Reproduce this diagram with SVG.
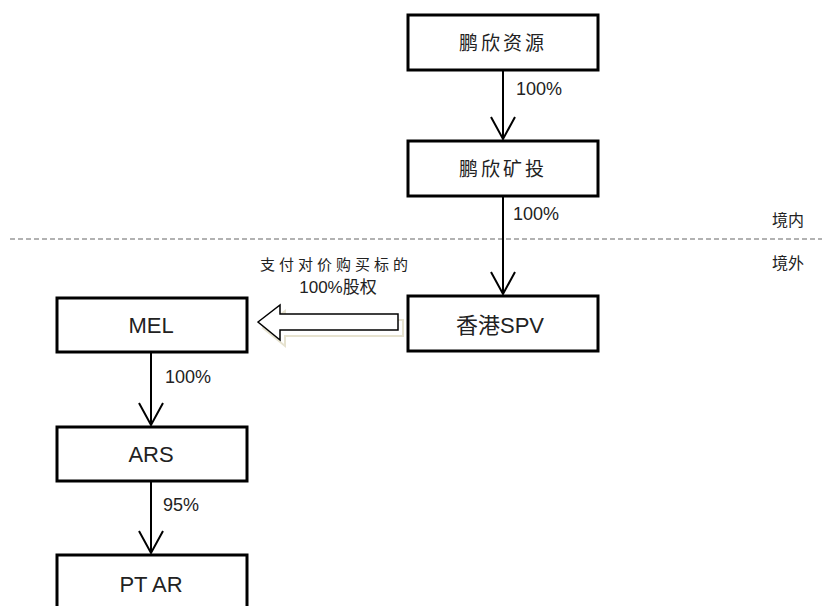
<svg xmlns="http://www.w3.org/2000/svg" width="822" height="606" viewBox="0 0 822 606">
<style>
.box{fill:#fff;stroke:#000;stroke-width:3}
.ln{fill:none;stroke:#000;stroke-width:2}
.cjk{font-family:"Noto Sans CJK SC","Liberation Sans",sans-serif;fill:#222}
.lat{font-family:"Liberation Sans","Noto Sans CJK SC",sans-serif;fill:#222}
.pct{font-family:"Liberation Sans",sans-serif;font-size:18px;fill:#222}
</style>
<rect width="822" height="606" fill="#fff"/>
<line x1="10" y1="239" x2="822" y2="239" stroke="#666" stroke-width="1.2" stroke-dasharray="5,3"/>
<text class="cjk" x="772" y="226" font-size="16">境内</text>
<text class="cjk" x="772" y="269" font-size="16">境外</text>
<g id="n1"><rect class="box" x="408" y="15" width="190" height="55"/><text class="cjk" x="503" y="50" font-size="19" letter-spacing="3" text-anchor="middle">鹏欣资源</text></g>
<g id="n2"><rect class="box" x="408" y="141" width="190" height="55"/><text class="cjk" x="503" y="176" font-size="19" letter-spacing="3" text-anchor="middle">鹏欣矿投</text></g>
<g id="n3"><rect class="box" x="408" y="296" width="190" height="55"/><text class="lat" x="500" y="333" font-size="22" text-anchor="middle">香港SPV</text></g>
<g id="n4"><rect class="box" x="57" y="298" width="190" height="54"/><text class="lat" x="151" y="333" font-size="22" text-anchor="middle">MEL</text></g>
<g id="n5"><rect class="box" x="57" y="427" width="190" height="54"/><text class="lat" x="151" y="462" font-size="22" text-anchor="middle">ARS</text></g>
<g id="n6"><rect class="box" x="57" y="555" width="190" height="60"/><text class="lat" x="151" y="592" font-size="22" text-anchor="middle">PT AR</text></g>
<g id="connectors">
<line class="ln" x1="503" y1="70" x2="503" y2="139"/><polyline class="ln" points="491,117 503,139 515,117"/>
<line class="ln" x1="503" y1="196" x2="503" y2="294"/><polyline class="ln" points="491,272 503,294 515,272"/>
<line class="ln" x1="151" y1="352" x2="151" y2="425"/><polyline class="ln" points="139,403 151,425 163,403"/>
<line class="ln" x1="151" y1="481" x2="151" y2="553"/><polyline class="ln" points="139,531 151,553 163,531"/>
<polygon points="263,328 285,311 285,320 403,320 403,336 285,336 285,346" fill="none" stroke="#e6e2cf" stroke-width="2"/>
<polygon points="258,322 280,305 280,314 398,314 398,330 280,330 280,340" fill="#fff" stroke="#000" stroke-width="1.5"/>
</g>
<text class="pct" x="516" y="95">100%</text>
<text class="pct" x="513" y="220">100%</text>
<text class="pct" x="165" y="383">100%</text>
<text class="pct" x="163" y="511">95%</text>
<text class="cjk" x="336" y="270" font-size="15" letter-spacing="4" text-anchor="middle">支付对价购买标的</text>
<text class="lat" x="338" y="293" font-size="17" text-anchor="middle">100%股权</text>
</svg>
